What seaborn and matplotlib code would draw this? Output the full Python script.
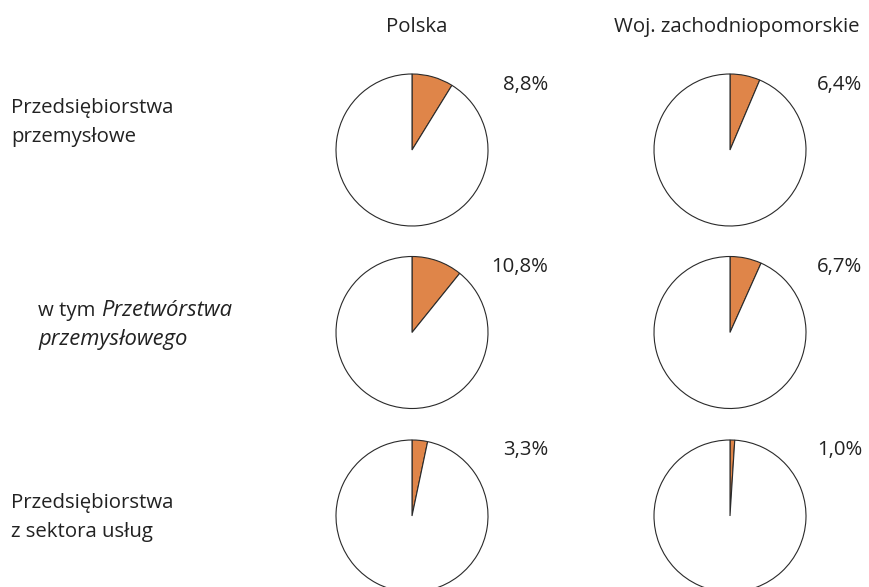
import matplotlib
matplotlib.use("Agg")
import matplotlib.pyplot as plt
import seaborn as sns

sns.set_theme(style="white")
plt.rcParams['font.family'] = ['Open Sans', 'DejaVu Sans']

# ---- data ----
columns = ["Polska", "Woj. zachodniopomorskie"]
row_labels = [["Przedsiębiorstwa", "przemysłowe"],
              ["w tym", "Przetwórstwa", "przemysłowego"],
              ["Przedsiębiorstwa", "z sektora usług"]]
polska = [8.8, 10.8, 3.3]
zachodniopomorskie = [6.4, 6.7, 1.0]
pct_labels = [["8,8%", "6,4%"], ["10,8%", "6,7%"], ["3,3%", "1,0%"]]

ORANGE = "#DF8549"
TXT = "#222222"
W, H = 869, 587
fig = plt.figure(figsize=(W / 100, H / 100), dpi=100)
fig.patch.set_facecolor("white")

col_cx = [412, 730]
row_cy = [150, 332.5, 516]
R = 76
pad = 3
fs = 14.7

series = [polska, zachodniopomorskie]
for ci, cx in enumerate(col_cx):
    for ri, cy in enumerate(row_cy):
        v = series[ci][ri]
        ax = fig.add_axes([(cx - R - pad) / W, (H - (cy + R + pad)) / H,
                           2 * (R + pad) / W, 2 * (R + pad) / H])
        ax.pie([v, 100 - v], startangle=90, counterclock=False,
               colors=[ORANGE, "white"],
               wedgeprops=dict(edgecolor="#2a2a2a", linewidth=0.8))
        lim = (R + pad) / R
        ax.set_xlim(-lim, lim)
        ax.set_ylim(-lim, lim)
        ax.set_aspect("equal")
        ax.axis("off")

# column headers
for cx, name in zip([417, 737], columns):
    fig.text(cx / W, 1 - 27 / H, name, ha="center", va="center",
             fontsize=fs, color=TXT)

# percent labels (right aligned)
pct_x = [548, 862]
pct_y = [85, 267, 450]
for ri in range(3):
    for ci in range(2):
        fig.text(pct_x[ci] / W, 1 - pct_y[ri] / H, pct_labels[ri][ci],
                 ha="right", va="center", fontsize=fs, color=TXT)

# row labels
fig.text(11 / W, 1 - 108 / H, row_labels[0][0], ha="left", va="center", fontsize=fs, color=TXT)
fig.text(11 / W, 1 - 137 / H, row_labels[0][1], ha="left", va="center", fontsize=fs, color=TXT)

t = fig.text(38 / W, 1 - 311 / H, row_labels[1][0] + " ", ha="left", va="center",
             fontsize=fs, color=TXT)
fig.canvas.draw()
bb = t.get_window_extent(renderer=fig.canvas.get_renderer())
fig.text(bb.x1 / W, 1 - 311 / H, row_labels[1][1], ha="left", va="center",
         fontsize=15.8, color=TXT, style="italic")
fig.text(38 / W, 1 - 339 / H, row_labels[1][2], ha="left", va="center",
         fontsize=15.8, color=TXT, style="italic")

fig.text(11 / W, 1 - 503 / H, row_labels[2][0], ha="left", va="center", fontsize=fs, color=TXT)
fig.text(11 / W, 1 - 532 / H, row_labels[2][1], ha="left", va="center", fontsize=fs, color=TXT)

fig.savefig("out.png", dpi=100, facecolor="white")
